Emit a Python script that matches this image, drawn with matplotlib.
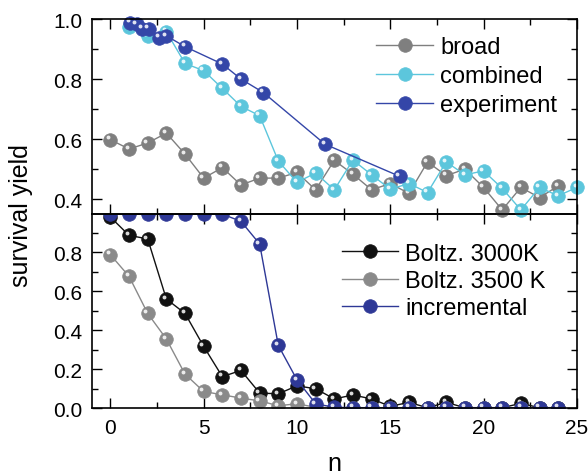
import numpy as np
import matplotlib.pyplot as plt
from matplotlib.ticker import MultipleLocator
from matplotlib.transforms import ScaledTranslation

plt.rcParams['font.family'] = ['Liberation Sans', 'DejaVu Sans']

# upper panel
n_broad = [0, 1, 2, 3, 4, 5, 6, 7, 8, 9, 10, 11, 12, 13, 14, 15, 16, 17, 18, 19, 20, 21, 22, 23, 24]
broad = [0.598, 0.567, 0.587, 0.620, 0.550, 0.470, 0.505, 0.447, 0.470, 0.470, 0.489, 0.431, 0.529,
         0.483, 0.431, 0.452, 0.419, 0.524, 0.478, 0.500, 0.439, 0.364, 0.439, 0.405, 0.444]
n_comb = [1, 2, 3, 4, 5, 6, 7, 8, 9, 10, 11, 12, 13, 14, 15, 16, 17, 18, 19, 20, 21, 22, 23, 24, 25]
combined = [0.975, 0.943, 0.958, 0.852, 0.828, 0.769, 0.709, 0.678, 0.527, 0.456, 0.487, 0.431, 0.530,
            0.481, 0.433, 0.452, 0.422, 0.524, 0.481, 0.494, 0.436, 0.364, 0.439, 0.411, 0.439]
n_exp = [1.05, 1.4, 1.7, 2.05, 2.6, 3.0, 4.0, 6.0, 7.0, 8.2, 11.5, 15.5]
experiment = [0.988, 0.982, 0.968, 0.968, 0.938, 0.944, 0.908, 0.850, 0.800, 0.755, 0.583, 0.476]

# lower panel
n_sim = [0, 1, 2, 3, 4, 5, 6, 7, 8, 9, 10, 11, 12, 13, 14, 15, 16, 17, 18, 19, 20, 21, 22, 23, 24]
boltz3000 = [0.980, 0.886, 0.868, 0.560, 0.486, 0.317, 0.162, 0.194, 0.078, 0.074, 0.115, 0.100, 0.048,
             0.068, 0.048, 0.010, 0.030, 0.003, 0.030, 0.003, 0.003, 0.003, 0.025, 0.003, 0.003]
boltz3500 = [0.787, 0.676, 0.486, 0.355, 0.175, 0.086, 0.069, 0.052, 0.038, 0.013, 0.023, 0.005, 0.003,
             0.003, 0.003, 0.003, 0.003, 0.003, 0.003, 0.003, 0.003, 0.003, 0.003, 0.003, 0.003]
incremental = [0.995, 0.995, 0.995, 0.995, 0.995, 0.995, 0.995, 0.958, 0.842, 0.322, 0.146, 0.023, 0.005,
               0.003, 0.003, 0.003, 0.003, 0.003, 0.003, 0.003, 0.003, 0.003, 0.003, 0.003, 0.003]


def ball_line(ax, x, y, color, label, clip=True):
    # marker + small white highlight to mimic the shaded spheres
    line, = ax.plot(x, y, '-o', color=color, lw=1.0, ms=9.8, mec=color, mew=0.5,
                    label=label, clip_on=clip)
    shift = ScaledTranslation(-1.6 / 72, 1.6 / 72, ax.figure.dpi_scale_trans)
    ax.plot(x, y, 'o', color='white', ms=2.8, alpha=0.85, mew=0,
            transform=ax.transData + shift, clip_on=clip)
    return line


def style_axis(ax):
    ax.tick_params(which='both', direction='in', top=True, right=True, labelsize=15, pad=7)
    ax.tick_params(which='major', length=7, width=1.0)
    ax.tick_params(which='minor', length=4, width=1.0)
    ax.xaxis.set_major_locator(MultipleLocator(5))
    ax.xaxis.set_minor_locator(MultipleLocator(2.5))
    ax.yaxis.set_major_locator(MultipleLocator(0.2))
    ax.yaxis.set_minor_locator(MultipleLocator(0.1))
    for s in ax.spines.values():
        s.set_linewidth(1.2)


fig = plt.figure(figsize=(5.88, 4.77), dpi=100)
ax1 = fig.add_axes([0.156, 0.549, 0.825, 0.409])
ax2 = fig.add_axes([0.156, 0.142, 0.825, 0.407])
ax1.set_zorder(3)
ax1.patch.set_alpha(0)

ball_line(ax1, n_broad, broad, '#7f7f7f', 'broad', clip=False)
ball_line(ax1, n_comb, combined, '#5cc6dc', 'combined', clip=False)
ball_line(ax1, n_exp, experiment, '#3446a8', 'experiment', clip=False)

ball_line(ax2, n_sim, boltz3000, '#111111', 'Boltz. 3000K')
ball_line(ax2, n_sim, boltz3500, '#8a8a8a', 'Boltz. 3500 K')
ball_line(ax2, n_sim, incremental, '#2e3896', 'incremental')

for ax in (ax1, ax2):
    ax.set_xlim(-1, 25)
    style_axis(ax)
ax1.set_ylim(0.35, 1.0)
ax2.set_ylim(0.0, 0.995)
ax1.tick_params(labelbottom=False)
ax2.set_yticks([0.0, 0.2, 0.4, 0.6, 0.8])

ax1.legend(loc='upper left', bbox_to_anchor=(0.548, 1.01), frameon=False, fontsize=17,
           handlelength=2.4, handletextpad=0.3, labelspacing=0.3, borderpad=0.3)
ax2.legend(loc='upper left', bbox_to_anchor=(0.476, 0.95), frameon=False, fontsize=17,
           handlelength=2.4, handletextpad=0.3, labelspacing=0.22, borderpad=0.3)

ax2.set_xlabel('n', fontsize=18, labelpad=10)
fig.text(0.035, 0.549, 'survival yield', rotation=90, fontsize=18, ha='center', va='center')

plt.savefig('out.png', dpi=100)
